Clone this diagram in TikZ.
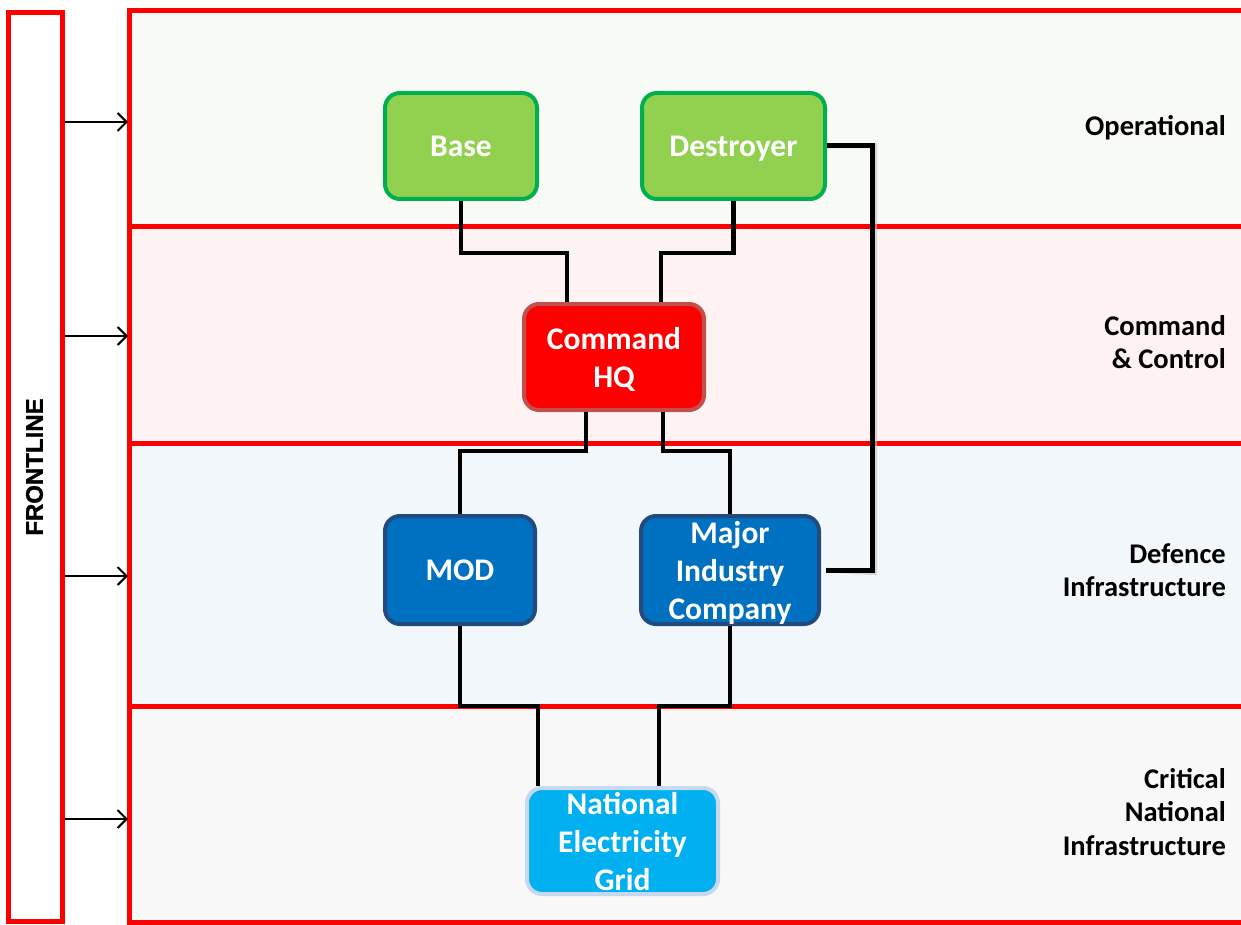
\documentclass[tikz,border=0pt]{standalone}
\usepackage{fontspec}
\setmainfont{Carlito}
\newfontfamily\arialbold{LiberationSans-Bold.ttf}[FakeBold=1.5]
\usetikzlibrary{arrows.meta}
\definecolor{bandA}{HTML}{F8FAF5}
\definecolor{bandB}{HTML}{FEF2F2}
\definecolor{bandC}{HTML}{F2F7FC}
\definecolor{bandD}{HTML}{F8F8F8}
\definecolor{redline}{HTML}{FF0000}
\definecolor{gfill}{HTML}{92D050}
\definecolor{gdraw}{HTML}{00B050}
\definecolor{rfill}{HTML}{FF0000}
\definecolor{rdraw}{HTML}{C0504D}
\definecolor{bfill}{HTML}{0070C0}
\definecolor{bdraw}{HTML}{234A7E}
\definecolor{cfill}{HTML}{00B0F0}
\definecolor{cdraw}{HTML}{C6D9F1}
\tikzset{
  box/.style={rounded corners=15pt, line width=4pt, inner sep=0pt, align=center,
    text=white, text depth=0pt, font=\bfseries\fontsize{31.5}{38}\selectfont},
  gbox/.style={box, fill=gfill, draw=gdraw},
  rbox/.style={box, fill=rfill, draw=rdraw},
  bbox/.style={box, fill=bfill, draw=bdraw},
  cbox/.style={box, fill=cfill, draw=cdraw},
  conn/.style={line width=4.6pt, black},
  band/.style={line width=5pt, draw=redline},
  lab/.style={anchor=east, align=right, inner sep=0pt, font=\bfseries\fontsize{28.5}{33.5}\selectfont},
  farrow/.style={line width=2pt, -{Straight Barb[length=9pt, width=18pt, line width=2pt]}},
}
\begin{document}
\begin{tikzpicture}[x=1pt, y=-1pt]
\useasboundingbox (0,0) rectangle (1241,925);
% bands
\fill[bandA] (129,11) rectangle (1260,227);
\fill[bandB] (129,227) rectangle (1260,443);
\fill[bandC] (129,443) rectangle (1260,706);
\fill[bandD] (129,706) rectangle (1260,922);
\draw[band] (1260,11) -- (129,11) -- (129,922) -- (1260,922);
\draw[band] (129,227) -- (1260,227);
\draw[band] (129,443) -- (1260,443);
\draw[band] (129,706) -- (1260,706);
% frontline
\node[draw=redline, line width=5pt, minimum width=53.5pt, minimum height=909.5pt, inner sep=0pt] (front) at (35.25,467) {};
\node[rotate=90, inner sep=0pt, font=\arialbold\fontsize{24}{28}\selectfont] (frontlab) at (34.5,467) {FRONTLINE};
\coordinate (a1) at (128,122);
\coordinate (a2) at (128,336);
\coordinate (a3) at (128,576);
\coordinate (a4) at (128,819);
\draw[farrow] (front.east |- a1) -- (a1);
\draw[farrow] (front.east |- a2) -- (a2);
\draw[farrow] (front.east |- a3) -- (a3);
\draw[farrow] (front.east |- a4) -- (a4);
% nodes
\node[gbox, minimum width=152pt, minimum height=106pt] (base) at (461,146) {Base};
\node[gbox, minimum width=183pt, minimum height=106pt] (dest) at (733.5,146) {Destroyer};
\node[rbox, minimum width=180pt, minimum height=106pt] (cmd) at (614,357) {Command\\HQ};
\node[bbox, minimum width=150pt, minimum height=108pt] (mod) at (460,570) {MOD};
\node[bbox, minimum width=178pt, minimum height=108pt] (mic) at (730,570) {Major\\Industry\\Company};
\node[cbox, minimum width=191pt, minimum height=106pt] (grid) at (622.5,841) {National\\Electricity\\Grid};
% connectors
\draw[conn] (base.south) |- (567,253) -- ([xshift=-47pt]cmd.north);
\draw[conn] (dest.south) |- (661,253) -- ([xshift=47pt]cmd.north);
\draw[conn] ([xshift=-28pt]cmd.south) |- (460,451) -- (mod.north);
\draw[conn] ([xshift=49pt]cmd.south) |- (730,451) -- (mic.north);
\draw[conn] (mod.south) |- (538,706) -- ([xshift=-84.5pt]grid.north);
\draw[conn] (mic.south) |- (659,706) -- ([xshift=36.5pt]grid.north);
\draw[line width=5pt, black!25, opacity=0.6, shift={(2.5,2.5)}] (dest.east) -| (872,570) -- ([xshift=5pt]mic.east);
\draw[line width=5pt, black] (dest.east) -| (872,570) -- ([xshift=5pt]mic.east);
% labels
\node[lab] (l1) at (1226,128) {Operational};
\node[lab] (l2) at (1226,342) {Command\\\& Control};
\node[lab] (l3) at (1226,570) {Defence\\Infrastructure};
\node[lab] (l4) at (1226,812) {Critical\\National\\Infrastructure};
\end{tikzpicture}
\end{document}
